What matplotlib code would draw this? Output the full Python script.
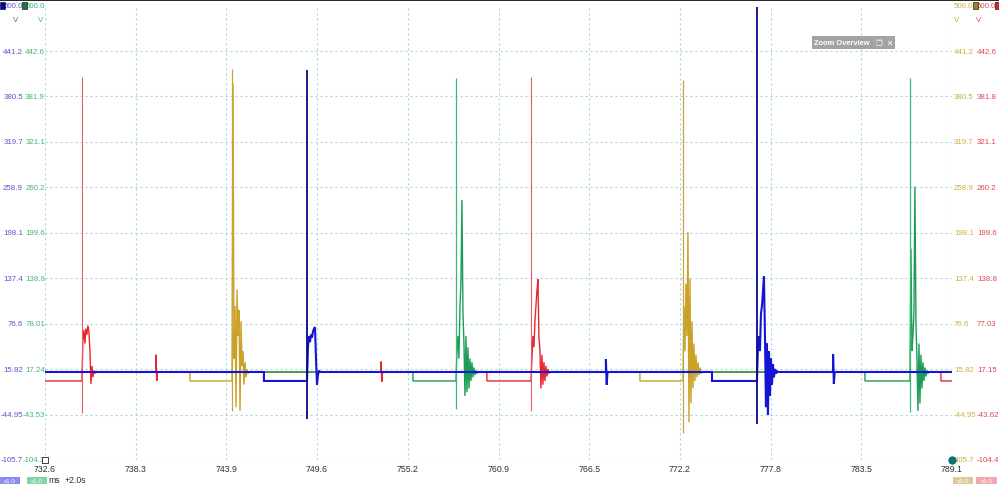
"""
Scope capture re-draw: four channels, ~28 ms firing period, 732.6-789.1 ms window.
"""

import matplotlib
matplotlib.use("Agg")
import matplotlib.pyplot as plt
from matplotlib.patches import Rectangle
from matplotlib.transforms import blended_transform_factory

plt.rcParams["font.family"] = ["Liberation Sans", "DejaVu Sans"]

W, H, DPI = 999, 485, 100

PALETTE = {
    "blue":    "#1414d2",
    "green":   "#1c9d55",
    "yellow":  "#c9a227",
    "red":     "#e8262e",
    "spk_b":   "#0a0a8c",
    "spk_g":   "#3cb878",
    "spk_y":   "#c8a53a",
    "spk_r":   "#ee5a60",
    "lbl_b":   "#5858cc",
    "lbl_g":   "#45b575",
    "lbl_y":   "#c8b040",
    "lbl_r":   "#e04858",
    "grid":    "#a9d6de",
    "text":    "#303030",
}

# ---- axis ranges (blue channel volts, time in ms) ----
X_MIN, X_MAX = 732.6, 789.1
Y_MIN, Y_MAX = -105.7, 502.0

x_ticks  = [732.6, 738.25, 743.9, 749.55, 755.2, 760.85, 766.5, 772.15, 777.8, 783.45, 789.1]
x_labels = ["732.6", "738.3", "743.9", "749.6", "755.2", "760.9", "766.5", "772.2", "777.8", "783.5", "789.1"]

y_ticks  = [502.0, 441.2, 380.5, 319.7, 258.9, 198.1, 137.4, 76.6, 15.82, -44.95, -105.7]
blue_labels   = ["500.0", "441.2", "380.5", "319.7", "258.9", "198.1", "137.4", "76.6", "15.82", "-44.95", "-105.7"]
green_labels  = ["500.0", "442.6", "381.9", "321.1", "260.2", "199.6", "138.8", "78.01", "17.24", "-43.53", "-104.3"]
yellow_labels = ["500.0", "441.2", "380.5", "319.7", "258.9", "198.1", "137.4", "76.6", "15.82", "-44.95", "105.7"]
red_labels    = ["500.0", "442.6", "381.8", "321.1", "260.2", "199.6", "138.8", "77.03", "17.15", "-43.62", "-104.4"]

# ---- trace data ----
BASE, LOW = 12.0, 0.0
RING_DT = 0.0623   # sample spacing of the ringing records (ms)
BLIP_DT = 0.05

# red
red_low_start = [732.0, 760.13]
red_spike_t   = [734.90, 762.87]
red_peak      = [406, 406]
red_dip       = [-43, -40]
red_ring = [
    [55, 68, 50, 70, 62, 74, 66, 40, -4, 20, 5, 14, 10, 12],
    [30, 60, 45, 80, 100, 120, 136, 60, 40, -10, 35, -5, 25, 0, 20, 6, 16, 10, 12],
]
red_blip_t  = [739.51, 753.53]
red_blip_hi = [35, 26]
red_blip_lo = [0, -1]
red_tail_low = 788.41

# yellow
yellow_low_start = [741.63, 769.66]
yellow_spike_t   = [744.25, 772.34]
yellow_peak      = [417, 402]
yellow_dip       = [-40, -70]
yellow_ring = [
    [398, 30, 100, -35, 122, 60, 95, -40, 80, 20, 40, -5, 25, 5, 15, 10, 12],
    [100, 40, 130, 60, 199, -55, 137, -30, 80, -10, 50, 0, 35, 5, 25, 8, 18, 10, 12],
]

# blue
blue_low_start = [746.24, 774.15]
blue_spike_t   = [748.92, 776.95]
blue_peak      = [416, 500]
blue_dip       = [-51, -57]
blue_ring = [
    [45, 60, 52, 62, 58, 66, 70, 72, 30, -5, 8, 14, 12],
    [46, 60, 40, 90, 100, 120, 140, 60, -35, 50, -45, 40, -20, 30, -5, 22, 5, 16, 10, 13, 12],
]
blue_blip_t  = [767.54, 781.69]
blue_blip_hi = [29, 36]
blue_blip_lo = [-5, -4]

# green
green_low_start = [755.52, 783.68]
green_spike_t   = [758.20, 786.48]
green_peak      = [405, 405]
green_dip       = [-38, -42]
green_ring = [
    [40, 60, 30, 100, 131, 242, 90, 50, -20, 60, -15, 45, -10, 30, 0, 25, 5, 18, 8, 14, 10, 12],
    [177, 40, 60, 90, 260, 78, 30, -40, 50, -30, 35, -10, 25, 0, 18, 6, 14, 10, 12],
]


def build_trace(low_start, spike_t, rings,
                blip_t=(), blip_hi=(), blip_lo=(), tail_low=None):
    # the tall switching spike itself is drawn separately (thin vline)
    segs = []
    for ls, st, ring in zip(low_start, spike_t, rings):
        seg = [(ls, BASE), (ls, LOW), (st, LOW)]
        seg += [(st + (k + 1) * RING_DT, r) for k, r in enumerate(ring)]
        segs.append(seg)
    for bt, hi, lo in zip(blip_t, blip_hi, blip_lo):
        segs.append([(bt, BASE), (bt, hi), (bt + BLIP_DT, lo), (bt + 2 * BLIP_DT, BASE)])
    if tail_low is not None:
        segs.append([(tail_low, BASE), (tail_low, LOW), (X_MAX + 2, LOW)])
    segs.sort(key=lambda s: s[0][0])

    pts = [(X_MIN - 2, BASE)]
    for s in segs:
        pts += s
    if pts[-1][0] < X_MAX:
        pts.append((X_MAX + 2, BASE))
    return [p[0] for p in pts], [p[1] for p in pts]


fig = plt.figure(figsize=(W / DPI, H / DPI), dpi=DPI)
fig.patch.set_facecolor("white")
ax = fig.add_axes([45 / W, 24 / H, 907 / W, 454.4 / H])
ax.set_xlim(X_MIN, X_MAX)
ax.set_ylim(Y_MIN, Y_MAX)

for sp in ax.spines.values():
    sp.set_visible(False)

ax.set_xticks(x_ticks, x_labels)
ax.set_yticks(y_ticks[1:])
ax.tick_params(axis="x", length=0, pad=3, labelsize=6.3, colors=PALETTE["text"])
ax.tick_params(axis="y", length=0, labelleft=False)
ax.grid(True, color=PALETTE["grid"], linestyle=(0, (2, 2.5)), linewidth=0.8)
ax.set_axisbelow(True)

channels = [
    ("red", red_low_start, red_spike_t, red_peak, red_dip, red_ring,
     dict(blip_t=red_blip_t, blip_hi=red_blip_hi, blip_lo=red_blip_lo, tail_low=red_tail_low), 1.0, 0.8),
    ("yellow", yellow_low_start, yellow_spike_t, yellow_peak, yellow_dip, yellow_ring, {}, 1.0, 0.9),
    ("green", green_low_start, green_spike_t, green_peak, green_dip, green_ring, {}, 1.0, 0.9),
    ("blue", blue_low_start, blue_spike_t, blue_peak, blue_dip, blue_ring,
     dict(blip_t=blue_blip_t, blip_hi=blue_blip_hi, blip_lo=blue_blip_lo), 1.5, 1.3),
]
# blue last so it sits on top
for name, ls, st, pk, dp, ring, extra, lw, spk_lw in channels:
    tx, ty = build_trace(ls, st, ring, **extra)
    ax.plot(tx, ty, color=PALETTE[name], lw=lw, solid_joinstyle="miter")
    ax.vlines(st, dp, pk, color=PALETTE["spk_" + name[0]], lw=spk_lw)

# axis corner markers
ax.plot([X_MIN], [Y_MIN], marker="s", ms=4, mfc="white", mec="#202020", mew=0.6, clip_on=False, zorder=5)
ax.plot([X_MAX], [Y_MIN], marker="o", ms=6, mfc="#106f70", mec="none", clip_on=False, zorder=5)

# ---- channel scale columns ----
trans = blended_transform_factory(ax.transAxes, ax.transData)


def ax_x(px):
    return (px - 45) / 907


LBL_FS = 5.7
columns = [
    (blue_labels,   PALETTE["lbl_b"], ax_x(23),  "right"),
    (green_labels,  PALETTE["lbl_g"], ax_x(45),  "right"),
    (yellow_labels, PALETTE["lbl_y"], ax_x(954), "left"),
    (red_labels,    PALETTE["lbl_r"], ax_x(977), "left"),
]
for labels, col, xa, ha in columns:
    for yv, s in zip(y_ticks, labels):
        ax.text(xa, yv, s, transform=trans, color=col, fontsize=LBL_FS,
                ha=ha, va="center", clip_on=False)

V_ROW = 484
for xa, col in [(ax_x(16), PALETTE["lbl_b"]), (ax_x(41), PALETTE["lbl_g"]),
                (ax_x(957), PALETTE["lbl_y"]), (ax_x(979), PALETTE["lbl_r"])]:
    ax.text(xa, V_ROW, "V", transform=trans, color=col, fontsize=LBL_FS,
            ha="center", va="center", clip_on=False)


# ---- chrome in figure pixels ----
def fx(px):
    return px / W


def fy(py):
    return 1 - py / H


def box(x0, y0, x1, y1, face, edge="none", lw=0.0):
    fig.patches.append(Rectangle((fx(x0), fy(y1)), (x1 - x0) / W, (y1 - y0) / H,
                                 transform=fig.transFigure, facecolor=face,
                                 edgecolor=edge, linewidth=lw))


# top border
box(0, 0, W, 1.5, "#2a2a2a")

# channel colour squares
box(0, 3, 5, 10, "#0000b0", "#202020", 0.5)
box(22, 3, 27, 10, "#157a45", "#202020", 0.5)
box(973, 3, 978, 10, "#a08020", "#202020", 0.5)
box(995, 3, 1000, 10, "#e02020", "#202020", 0.5)

# zoom overview tag
box(812, 37, 895, 50, "#a3a3a3")
fig.text(fx(814), fy(43.5), "Zoom Overview", color="white", fontsize=5.4,
         fontweight="bold", va="center", ha="left")
fig.text(fx(879), fy(43.5), "\u2750", color="white", fontsize=5.5,
         va="center", ha="center", family=["DejaVu Sans"])
fig.text(fx(889), fy(43.5), "\u2715", color="white", fontsize=5.5,
         fontweight="bold", va="center", ha="center", family=["DejaVu Sans"])

# bottom status strip
for x0, x1, face in [(0, 20, "#8c8cf0"), (27, 47, "#84d2a8"),
                     (953, 973, "#dccb94"), (976, 997, "#f2a6ae")]:
    box(x0, 478, x1, 486, face)
    fig.text(fx((x0 + x1) / 2), fy(481.5), "x1.0", color="white", fontsize=4.5,
             ha="center", va="center")
fig.text(fx(48), fy(481), "ms", color=PALETTE["text"], fontsize=6.3, va="center")
fig.text(fx(65), fy(481), "+2.0s", color=PALETTE["text"], fontsize=6.3, va="center")

fig.savefig("out.png", dpi=DPI, facecolor="white")
plt.close(fig)
